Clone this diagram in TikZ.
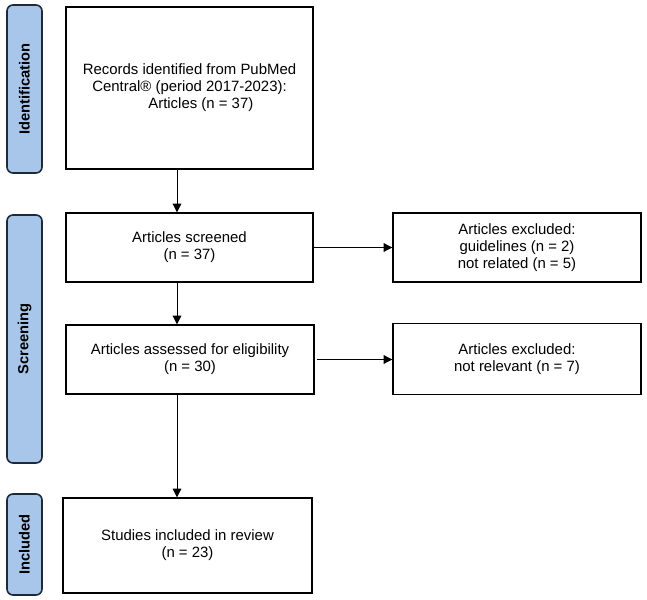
\documentclass[tikz,border=0pt]{standalone}
\usepackage{fontspec}
\setmainfont{Liberation Sans}
\usetikzlibrary{arrows.meta}
\definecolor{barfill}{HTML}{A7C6EA}
\definecolor{barline}{HTML}{1F2A38}
\tikzset{
  box/.style={draw=black, line width=1pt, fill=white, align=center, inner sep=0pt,
    font=\fontsize{11.2}{12.8}\selectfont},
  bar/.style={draw=barline, fill=barfill, line width=1.2pt, rounded corners=4.5pt},
  barlabel/.style={rotate=90, font=\fontsize{11}{12.5}\selectfont\bfseries},
  arr/.style={-{Triangle[length=6.5pt,width=6.5pt]}, line width=0.6pt}
}
\begin{document}
\begin{tikzpicture}[x=0.75pt,y=-0.75pt]
\useasboundingbox (0,0) rectangle (647,600);
% side bars
\draw[bar] (7,5) rectangle (42,173);
\node[barlabel] (lid) at (24.5,89) {Identification};
\draw[bar] (7,215) rectangle (42,463);
\node[barlabel] (lscr) at (24.5,339) {Screening};
\draw[bar] (7,494) rectangle (42,595);
\node[barlabel] (linc) at (24.5,544.5) {Included};
% boxes
\node[box, minimum width=0.75*247pt, minimum height=0.75*162pt] (rec) at (189.5,88)
  {Records identified from PubMed\\Central® (period 2017-2023):\\\hspace*{17pt}Articles (n = 37)};
\node[box, minimum width=0.75*247pt, minimum height=0.75*69pt] (scr) at (189.5,247.5)
  {Articles screened\\(n = 37)};
\node[box, minimum width=0.75*248pt, minimum height=0.75*69pt] (exa) at (517,247.5)
  {Articles excluded:\\guidelines (n = 2)\\not related (n = 5)};
\node[box, minimum width=0.75*248pt, minimum height=0.75*69pt] (ass) at (190,359.5)
  {Articles assessed for eligibility\\(n = 30)};
\node[box, minimum width=0.75*248pt, minimum height=0.75*71pt] (exb) at (517,359)
  {Articles excluded:\\not relevant (n = 7)};
\node[box, minimum width=0.75*249pt, minimum height=0.75*95pt] (inc) at (187.5,545.5)
  {Studies included in review\\(n = 23)};
% arrows
\coordinate (ax) at (177,0);
\draw[arr] (rec.south -| ax) -- (scr.north -| ax);
\draw[arr] (scr.south -| ax) -- (ass.north -| ax);
\draw[arr] (ass.south -| ax) -- (inc.north -| ax);
\draw[arr] (scr.east) -- (exa.west);
\draw[arr] ([xshift=2pt]ass.east) -- (ass.east -| exb.west);
\end{tikzpicture}
\end{document}
